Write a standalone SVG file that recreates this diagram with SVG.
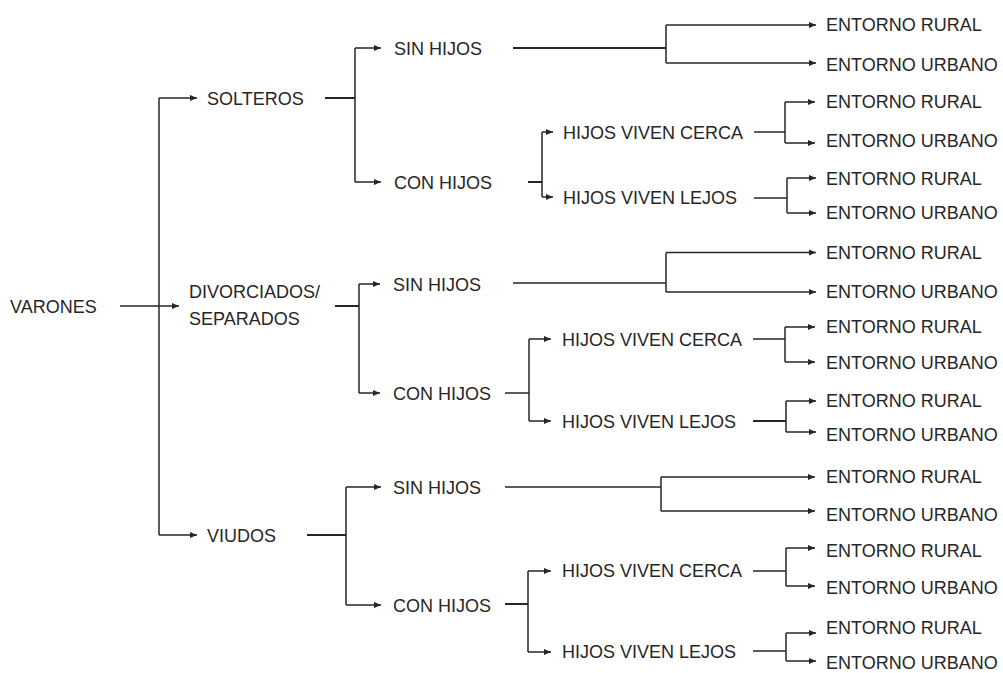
<svg xmlns="http://www.w3.org/2000/svg" width="1003" height="673" viewBox="0 0 1003 673">
<style>
text{font-family:"Liberation Sans",Arial,sans-serif;font-size:18px;fill:#262626}
.c path{fill:none;stroke:#262626;stroke-width:1.5}
.c .t{stroke-width:2}
.c .a{marker-end:url(#ah)}
</style>
<defs>
<marker id="ah" markerUnits="userSpaceOnUse" markerWidth="8" markerHeight="7" refX="7" refY="3" orient="auto">
<path d="M0,0 L7,3 L0,6 z" fill="#262626"/>
</marker>
</defs>
<rect width="1003" height="673" fill="#fff"/>
<g class="c" id="connectors">
<path class="a" d="M120,306 H179"/>
<path d="M159,98 V535"/>
<path class="a" d="M159,98 H197"/>
<path class="a" d="M159,535 H197"/>
<path class="t" d="M325,98 H355"/>
<path d="M355,48 V182"/>
<path class="a" d="M355,48 H381"/>
<path class="a" d="M355,182 H381"/>
<path class="t" d="M335,306 H359"/>
<path d="M359,284 V393"/>
<path class="a" d="M359,284 H380"/>
<path class="a" d="M359,393 H380"/>
<path class="t" d="M307,535 H346"/>
<path d="M346,487 V605"/>
<path class="a" d="M346,487 H381"/>
<path class="a" d="M346,605 H381"/>
<path class="t" d="M513,48 H666"/>
<path d="M666,25 V63"/>
<path class="a" d="M666,25 H816"/>
<path class="a" d="M666,63 H816"/>
<path d="M513,283 H666"/>
<path d="M666,252.5 V292"/>
<path class="a" d="M666,252.5 H816"/>
<path class="a" d="M666,292 H816"/>
<path d="M505,487 H661"/>
<path d="M661,477 V511"/>
<path class="a" d="M661,477 H815"/>
<path class="a" d="M661,511 H815"/>
<path class="t" d="M528,182 H542"/>
<path d="M542,132 V197"/>
<path class="a" d="M542,132 H553"/>
<path class="a" d="M542,197 H553"/>
<path d="M505,393 H529"/>
<path d="M529,339 V421"/>
<path class="a" d="M529,339 H551"/>
<path class="a" d="M529,421 H551"/>
<path class="t" d="M505,604 H528"/>
<path d="M528,571 V652"/>
<path class="a" d="M528,571 H551"/>
<path class="a" d="M528,652 H551"/>
<path d="M754,132 H785"/>
<path d="M785,102 V143"/>
<path class="a" d="M785,102 H815"/>
<path class="a" d="M785,143 H815"/>
<path d="M754,198 H787"/>
<path d="M787,178 V213"/>
<path class="a" d="M787,178 H816"/>
<path class="a" d="M787,213 H816"/>
<path d="M753,339 H785"/>
<path d="M785,327 V362"/>
<path class="a" d="M785,327 H815"/>
<path class="a" d="M785,362 H815"/>
<path class="t" d="M753,421 H786"/>
<path d="M786,401 V432"/>
<path class="a" d="M786,401 H816"/>
<path class="a" d="M786,432 H816"/>
<path d="M753,571 H786"/>
<path d="M786,548 V586"/>
<path class="a" d="M786,548 H815"/>
<path class="a" d="M786,586 H815"/>
<path d="M753,651 H786"/>
<path d="M786,633 V661"/>
<path class="a" d="M786,633 H816"/>
<path class="a" d="M786,661 H816"/>
</g>
<g id="varones"><text x="10" y="312.5">VARONES</text></g>
<g id="solteros"><text x="207" y="105">SOLTEROS</text></g>
<g id="divorciados"><text x="189" y="298">DIVORCIADOS/</text><text x="189" y="325">SEPARADOS</text></g>
<g id="viudos"><text x="207" y="541.5">VIUDOS</text></g>
<g id="sol-sin"><text x="394" y="54.5">SIN HIJOS</text></g>
<g id="sol-con"><text x="394" y="188.5">CON HIJOS</text></g>
<g id="div-sin"><text x="393" y="290.5">SIN HIJOS</text></g>
<g id="div-con"><text x="393" y="399.5">CON HIJOS</text></g>
<g id="viu-sin"><text x="393" y="493.5">SIN HIJOS</text></g>
<g id="viu-con"><text x="393" y="611.5">CON HIJOS</text></g>
<g id="sol-cerca"><text x="563" y="138.5">HIJOS VIVEN CERCA</text></g>
<g id="sol-lejos"><text x="563" y="203.5">HIJOS VIVEN LEJOS</text></g>
<g id="div-cerca"><text x="562" y="345.5">HIJOS VIVEN CERCA</text></g>
<g id="div-lejos"><text x="562" y="427.5">HIJOS VIVEN LEJOS</text></g>
<g id="viu-cerca"><text x="562" y="577">HIJOS VIVEN CERCA</text></g>
<g id="viu-lejos"><text x="562" y="658">HIJOS VIVEN LEJOS</text></g>
<g id="e1r"><text x="826" y="31">ENTORNO RURAL</text></g>
<g id="e1u"><text x="826" y="71">ENTORNO URBANO</text></g>
<g id="e2r"><text x="826" y="108">ENTORNO RURAL</text></g>
<g id="e2u"><text x="826" y="147">ENTORNO URBANO</text></g>
<g id="e3r"><text x="826" y="184.5">ENTORNO RURAL</text></g>
<g id="e3u"><text x="826" y="218.5">ENTORNO URBANO</text></g>
<g id="e4r"><text x="826" y="258.5">ENTORNO RURAL</text></g>
<g id="e4u"><text x="826" y="298">ENTORNO URBANO</text></g>
<g id="e5r"><text x="826" y="332.5">ENTORNO RURAL</text></g>
<g id="e5u"><text x="826" y="369">ENTORNO URBANO</text></g>
<g id="e6r"><text x="826" y="406.5">ENTORNO RURAL</text></g>
<g id="e6u"><text x="826" y="440.5">ENTORNO URBANO</text></g>
<g id="e7r"><text x="826" y="483">ENTORNO RURAL</text></g>
<g id="e7u"><text x="826" y="520.5">ENTORNO URBANO</text></g>
<g id="e8r"><text x="826" y="556.5">ENTORNO RURAL</text></g>
<g id="e8u"><text x="826" y="594">ENTORNO URBANO</text></g>
<g id="e9r"><text x="826" y="633.5">ENTORNO RURAL</text></g>
<g id="e9u"><text x="826" y="669">ENTORNO URBANO</text></g>
</svg>
